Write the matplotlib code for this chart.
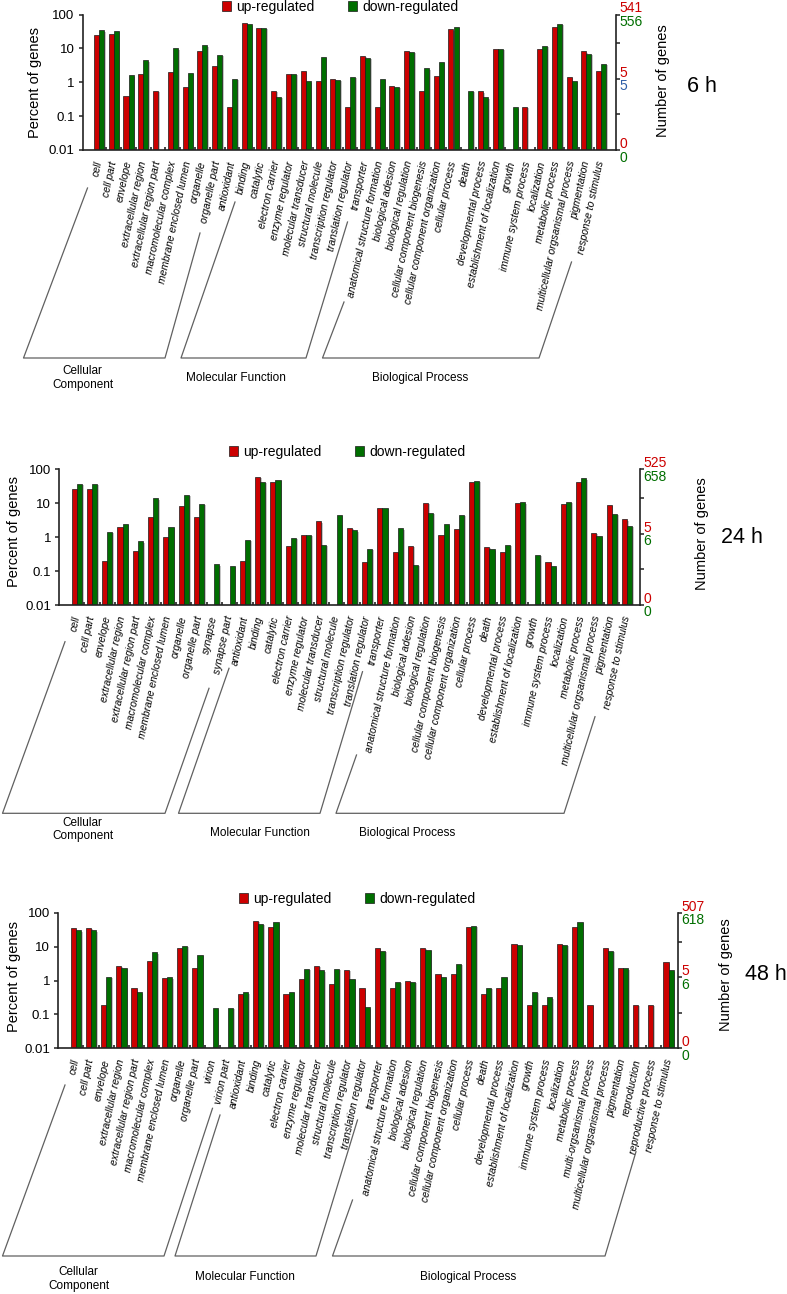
import numpy as np
import matplotlib
matplotlib.use('Agg')
import matplotlib.pyplot as plt
import matplotlib.patheffects as pe
from matplotlib.lines import Line2D
from matplotlib.patches import Patch
from matplotlib.ticker import NullLocator

plt.rcParams['font.family'] = ['Liberation Sans', 'DejaVu Sans']

# --- categories -------------------------------------------------------------
cc_base = ['cell', 'cell part', 'envelope', 'extracellular region',
           'extracellular region part', 'macromolecular complex',
           'membrane enclosed lumen', 'organelle', 'organelle part']
mf = ['antioxidant', 'binding', 'catalytic', 'electron carrier',
      'enzyme regulator', 'molecular transducer', 'structural molecule',
      'transcription regulator', 'translation regulator', 'transporter']
bp_base = ['anatomical structure formation', 'biological adesion',
           'biological regulation', 'cellular component biogenesis',
           'cellular component organization', 'cellular process', 'death',
           'developmental process', 'establishment of localization', 'growth',
           'immune system process', 'localization', 'metabolic process']
bp_tail = ['multicellular orgsanismal process', 'pigmentation',
           'response to stimulus']

cats_6h = cc_base + mf + bp_base + bp_tail
cats_24h = cc_base + ['synapse', 'synapse part'] + mf + bp_base + bp_tail
cats_48h = (cc_base + ['virion', 'virion part'] + mf + bp_base
            + ['multi-orgsanismal process', 'multicellular orgsanismal process',
               'pigmentation', 'reproduction', 'reproductive process',
               'response to stimulus'])

# --- percent of genes (0 = no bar) ------------------------------------------
up_6h = [24, 26, 0.39, 1.8, 0.56, 2.0, 0.74, 8.2, 3.1,
         0.19, 56, 40, 0.57, 1.7, 2.2, 1.1, 1.28, 0.19, 6.1,
         0.19, 0.75, 8.6, 0.57, 1.49, 37, 0, 0.54, 9.5, 0, 0.19, 9.6, 42,
         1.43, 8.2, 2.2]
down_6h = [34, 33, 1.6, 4.5, 0, 10, 1.9, 12.3, 6.4,
           1.24, 51, 40, 0.37, 1.78, 1.07, 5.6, 1.2, 1.47, 5.3,
           1.24, 0.72, 7.8, 2.6, 4.0, 44, 0.56, 0.36, 9.8, 0.18, 0, 11.8, 54,
           1.1, 7.0, 3.5]

up_24h = [27, 27, 0.2, 2.0, 0.4, 3.8, 1.0, 8.5, 4.0, 0, 0,
          0.2, 60, 41, 0.55, 1.13, 2.9, 0, 1.86, 0.19, 7.1,
          0.36, 0.55, 10.4, 1.13, 1.7, 41, 0.53, 0.37, 10.4, 0, 0.19, 9.5, 41,
          1.35, 8.9, 3.4]
down_24h = [37, 37, 1.45, 2.5, 0.75, 14, 2.0, 17.5, 9.5, 0.16, 0.145,
            0.85, 43, 50, 0.95, 1.16, 0.6, 4.5, 1.6, 0.45, 7.4,
            1.83, 0.15, 5.3, 2.4, 4.5, 45, 0.44, 0.6, 10.6, 0.3, 0.14, 11, 54,
            1.1, 4.8, 2.2]

up_48h = [34.5, 36, 0.19, 2.7, 0.59, 3.75, 1.15, 9.3, 2.3, 0, 0,
          0.39, 57, 37, 0.39, 1.13, 2.7, 0.77, 2.1, 0.59, 9.3,
          0.59, 0.96, 9.3, 1.53, 1.56, 38.7, 0.39, 0.59, 12.2, 0.19, 0.19,
          11.9, 38.7, 0.19, 9.3, 2.3, 0.19, 0.19, 3.4]
down_48h = [30, 30, 1.3, 2.4, 0.45, 6.8, 1.25, 10.6, 5.8, 0.15, 0.155,
            0.45, 48, 52, 0.47, 2.2, 2.0, 2.2, 1.13, 0.16, 7.6,
            0.93, 0.93, 8.1, 1.27, 3.1, 40.5, 0.61, 1.27, 11.4, 0.47, 0.32,
            11.2, 53, 0, 7.6, 2.3, 0, 0, 2.0]

# right axis labels: (top pair, middle pair, bottom pair)
right_6h = ['541', '556', '5', '5', '0', '0']
right_24h = ['525', '658', '5', '6', '0', '0']
right_48h = ['507', '618', '5', '6', '0', '0']

RED = '#CC0000'
GREEN = '#006E00'
BLUE = '#2E5FA8'
W, H = 787, 1294

# layout in pixels of the reference
panels = [
    dict(name='6 h', cats=cats_6h, up=up_6h, down=down_6h, right=right_6h,
         right_cols=[RED, GREEN, RED, BLUE, RED, GREEN],
         box=(83, 616, 14.5, 150), xpad=(1.08, 1.0),
         legend=(222, 7), ylab=(35, 83), nlab=(662.7, 80.7), tlab=(702, 86),
         brackets=[[(87.5, 188), (23.5, 358), (165, 358), (200, 233)],
                   [(235, 202), (181, 358), (306, 358), (347.5, 222)],
                   [(344, 302), (322.5, 358), (539, 358), (571.5, 262)]],
         groups=[(82.5, 378), (236, 378.3), (420, 378.3)]),
    dict(name='24 h', cats=cats_24h, up=up_24h, down=down_24h, right=right_24h,
         right_cols=[RED, GREEN, RED, GREEN, RED, GREEN],
         box=(59.3, 640, 469.3, 605), xpad=(1.14, 0.85),
         legend=(229, 452), ylab=(14, 532), nlab=(701.6, 534), tlab=(741.7, 538),
         brackets=[[(65, 641.7), (2.5, 813.3), (165, 813.3), (209, 688.3)],
                   [(229, 668.3), (178.5, 813.3), (320, 813.3), (362.5, 671.7)],
                   [(356.5, 755), (336, 813.3), (564, 813.3), (595, 716.7)]],
         groups=[(82.5, 829.5), (260, 833.3), (407.5, 833.3)]),
    dict(name='48 h', cats=cats_48h, up=up_48h, down=down_48h, right=right_48h,
         right_cols=[RED, GREEN, RED, GREEN, RED, GREEN],
         box=(58.3, 678, 912.7, 1048.3), xpad=(1.15, 0.62),
         legend=(239, 899), ylab=(14, 977), nlab=(726, 975), tlab=(766, 974),
         brackets=[[(65, 1085), (2.5, 1256), (164, 1256), (212.5, 1108.3)],
                   [(220, 1115), (175, 1256), (316, 1256), (357.5, 1120)],
                   [(352.5, 1200), (332.5, 1256), (605, 1256), (636, 1151.7)]],
         groups=[(78.5, 1279), (245, 1276.7), (468.5, 1276.7)]),
]
group_names = ['Cellular\nComponent', 'Molecular Function', 'Biological Process']
right_tick_pos = [2, 1.15, 0.1, -0.95, -2]


def fx(p):
    return p / W


def fy(p):
    return 1 - p / H


fig = plt.figure(figsize=(W / 100, H / 100), dpi=100)
shadow = [pe.SimplePatchShadow(offset=(1.2, -1), shadow_rgbFace='0.55', alpha=0.5),
          pe.Normal()]

for p in panels:
    l, r, t, b = p['box']
    ax = fig.add_axes([fx(l), fy(b), (r - l) / W, (b - t) / H])
    n = len(p['cats'])
    x = np.arange(n)
    w = 0.34
    for vals, off, col in ((p['up'], -w / 2, RED), (p['down'], w / 2, GREEN)):
        vals = np.asarray(vals, float)
        m = vals > 0
        bars = ax.bar(x[m] + off, vals[m] - 0.01, w, bottom=0.01, color=col,
                      edgecolor='#1a1a1a', linewidth=0.5)
        for bar in bars:
            bar.set_path_effects(shadow)

    ax.set_yscale('log')
    ax.set_ylim(0.01, 100)
    ax.set_xlim(-p['xpad'][0], n - 1 + p['xpad'][1])
    ax.set_yticks([0.01, 0.1, 1, 10, 100])
    ax.set_yticklabels(['0.01', '0.1', '1', '10', '100'], fontsize=9.5)
    ax.yaxis.set_minor_locator(NullLocator())
    ax.tick_params(axis='y', length=3, width=1.1, pad=3, color='#222222')

    ax.set_xticks(x)
    ax.set_xticklabels(p['cats'], rotation=78, ha='right', va='center',
                       rotation_mode='anchor', fontstyle='italic', fontsize=7.5)
    ax.set_xticks(np.arange(n - 1) + 0.5, minor=True)
    ax.tick_params(axis='x', which='major', length=0, pad=8)
    ax.tick_params(axis='x', which='minor', length=2, width=1.2,
                   direction='in', color='#222222')

    ax.spines['top'].set_visible(False)
    for s in ('left', 'bottom', 'right'):
        ax.spines[s].set_linewidth(1.2)
        ax.spines[s].set_color('#222222')

    ax2 = ax.twinx()
    ax2.set_yscale('log')
    ax2.set_ylim(0.01, 100)
    ax2.set_yticks(10.0 ** np.array(right_tick_pos))
    ax2.set_yticklabels([])
    ax2.yaxis.set_minor_locator(NullLocator())
    ax2.tick_params(axis='y', length=3, width=1.1, color='#222222')
    for s in ax2.spines.values():
        s.set_visible(False)

    for i, (txt, col) in enumerate(zip(p['right'], p['right_cols'])):
        ypos = 10.0 ** right_tick_pos[(i // 2) * 2]
        dy = 6 if i % 2 == 0 else -7.5
        ax.annotate(txt, xy=(1, ypos), xycoords=('axes fraction', 'data'),
                    xytext=(3, dy), textcoords='offset pixels', ha='left',
                    va='center', fontsize=10, color=col, annotation_clip=False)

    handles = [Patch(facecolor=RED, edgecolor='#1a1a1a', linewidth=0.5),
               Patch(facecolor=GREEN, edgecolor='#1a1a1a', linewidth=0.5)]
    fig.legend(handles, ['up-regulated', 'down-regulated'], loc='center left',
               bbox_to_anchor=(fx(p['legend'][0]), fy(p['legend'][1])), ncol=2,
               frameon=False, fontsize=10, handlelength=0.65, handleheight=0.65,
               handletextpad=0.35, columnspacing=2.45, borderpad=0,
               borderaxespad=0)

    fig.text(fx(p['ylab'][0]), fy(p['ylab'][1]), 'Percent of genes', rotation=90,
             ha='center', va='center', fontsize=10.5)
    fig.text(fx(p['nlab'][0]), fy(p['nlab'][1]), 'Number of genes', rotation=90,
             ha='center', va='center', fontsize=10.5)
    fig.text(fx(p['tlab'][0]), fy(p['tlab'][1]), p['name'], ha='center',
             va='center', fontsize=15.5)

    for pts, (gx, gy), name in zip(p['brackets'], p['groups'], group_names):
        xs = [fx(q[0]) for q in pts]
        ys = [fy(q[1]) for q in pts]
        fig.add_artist(Line2D(xs, ys, transform=fig.transFigure,
                              color='#606060', linewidth=0.9))
        fig.text(fx(gx), fy(gy), name, ha='center', va='center', fontsize=8.5,
                 linespacing=1.15)

fig.savefig('out.png', dpi=100)
